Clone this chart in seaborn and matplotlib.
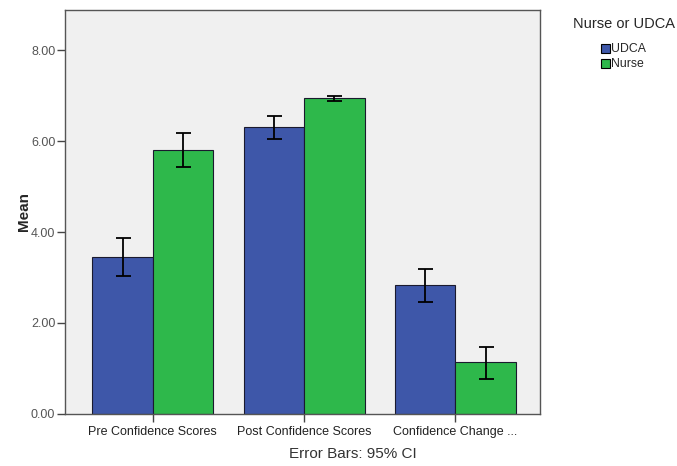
import pandas as pd
import matplotlib
matplotlib.use("Agg")
import matplotlib.pyplot as plt
import seaborn as sns

# values
categories = ["Pre Confidence Scores", "Post Confidence Scores", "Confidence Change ..."]
groups = ["UDCA", "Nurse"]
udca_mean = [3.46, 6.30, 2.84]
udca_low = [3.04, 6.04, 2.47]
udca_high = [3.87, 6.55, 3.19]
nurse_mean = [5.80, 6.94, 1.14]
nurse_low = [5.42, 6.88, 0.78]
nurse_high = [6.18, 7.00, 1.48]
y_ticks = [0, 2, 4, 6, 8]

colors = {"UDCA": "#3E57A9", "Nurse": "#2EB84B"}

sns.set_style("ticks")
plt.rcParams["font.family"] = ["Liberation Sans", "DejaVu Sans"]

df = pd.DataFrame({
    "Measure": categories * 2,
    "Group": ["UDCA"] * 3 + ["Nurse"] * 3,
    "Mean": udca_mean + nurse_mean,
    "Low": udca_low + nurse_low,
    "High": udca_high + nurse_high,
})

fig = plt.figure(figsize=(6.77, 4.66), dpi=100)
ax = fig.add_axes([0.096, 0.1116, 0.702, 0.867])
ax.set_facecolor("#F0F0F0")

sns.barplot(data=df, x="Measure", y="Mean", hue="Group", hue_order=groups,
            palette=colors, errorbar=None, width=0.8, saturation=1,
            edgecolor="#1A1A2E", linewidth=0.8, ax=ax)

# error bars (95% CI) centred on each bar
for container, grp in zip(ax.containers, groups):
    sub = df[df["Group"] == grp].set_index("Measure").loc[categories]
    xs = [p.get_x() + p.get_width() / 2 for p in container]
    ys = sub["Mean"].values
    yerr = [ys - sub["Low"].values, sub["High"].values - ys]
    ax.errorbar(xs, ys, yerr=yerr, fmt="none", ecolor="black",
                elinewidth=1.3, capsize=5.4, capthick=1.3, zorder=5)

ax.set_xlim(-0.58, 2.56)
ax.set_ylim(0, 8.88)
ax.set_yticks(y_ticks)
ax.set_yticklabels([f"{t:.2f}" for t in y_ticks])
ax.tick_params(axis="both", labelsize=9, colors="#444444", length=6, width=1, pad=1)
ax.tick_params(axis="y", labelcolor="#555555")
ax.tick_params(axis="x", labelcolor="#222222", length=6, pad=3)
for s in ax.spines.values():
    s.set_visible(True)
    s.set_color("#555555")
    s.set_linewidth(1)

ax.set_xlabel("")
ax.set_ylabel("Mean", fontsize=11, fontweight="bold", labelpad=0)

leg = ax.legend(title="Nurse or UDCA", loc="upper left",
                bbox_to_anchor=(1.045, 1.01), frameon=False,
                fontsize=8.8, title_fontsize=10.5, handlelength=0.75,
                handleheight=0.8, handletextpad=0.1, labelspacing=0.25)
leg._legend_box.sep = 9
for h in leg.legend_handles:
    h.set_edgecolor("black")

fig.text(0.521, 0.025, "Error Bars: 95% CI", ha="center", va="center",
         fontsize=11, color="#333333")

fig.savefig("out.png", dpi=100)
